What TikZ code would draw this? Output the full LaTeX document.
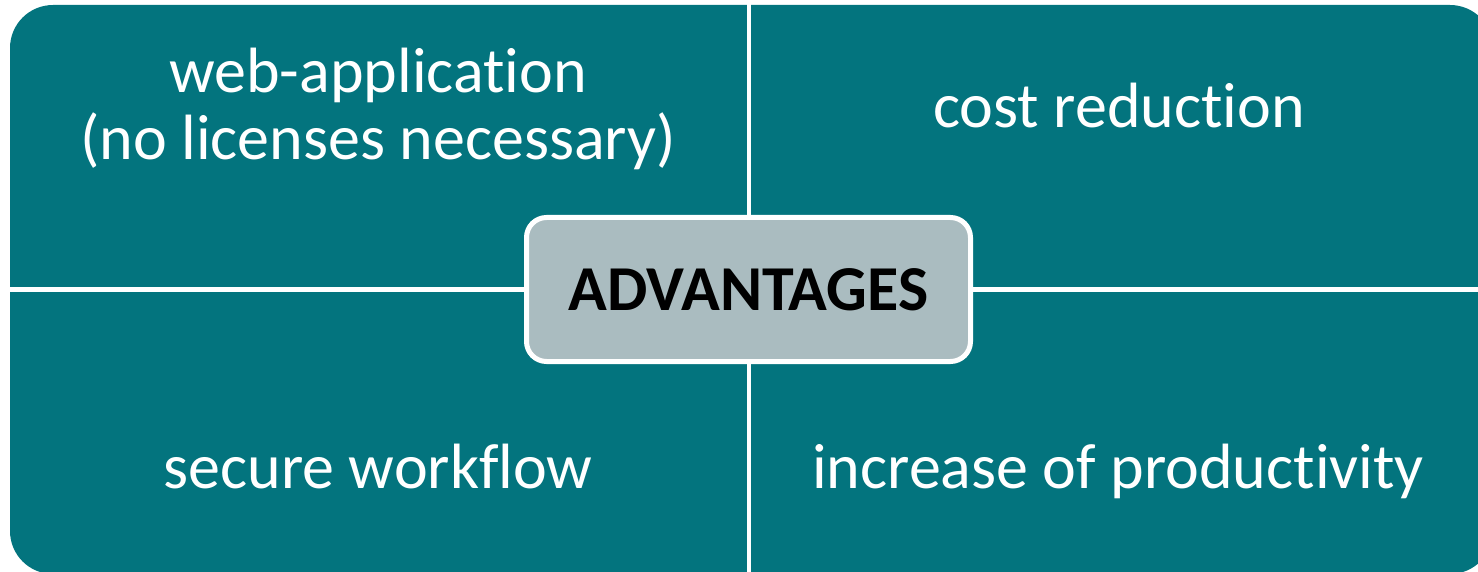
\documentclass[tikz,border=0pt]{standalone}
\usepackage{fontspec}
\setmainfont{Carlito}[Ligatures=NoCommon]
\definecolor{teal}{HTML}{03747E}
\definecolor{hubgrey}{HTML}{AABCC0}
\tikzset{
  panel/.style={fill=teal, draw=none},
  gap/.style={draw=white, line width=4.5pt},
  quadtext/.style={text=white, font=\fontsize{64}{67}\selectfont, align=center, inner sep=0pt, anchor=base},
  hub/.style={fill=hubgrey, draw=white, line width=5pt, rounded corners=20pt,
    minimum width=444pt, minimum height=144pt, inner sep=0pt,
    font=\bfseries\fontsize{64}{67}\selectfont, text=black}
}
\begin{document}
\begin{tikzpicture}[x=1pt,y=-1pt]
\useasboundingbox (0,0) rectangle (1478,572);
\begin{scope}
\clip (0,0) rectangle (1478,572);
\fill[panel, rounded corners=43pt] (10,5) rectangle (1493,574);
\coordinate (vt) at (749,0);
\coordinate (vb) at (749,580);
\coordinate (hl) at (0,289.5);
\coordinate (hr) at (1500,289.5);
\draw[gap] (vt) -- (vb);
\draw[gap] (hl) -- (hr);
\end{scope}
\node[quadtext] (web) at (378,160) {web-application\\(no licenses necessary)};
\node[quadtext] (cost) at (1119,128) {cost reduction};
\node[quadtext] (secure) at (378,488) {secure workflow};
\node[quadtext] (prod) at (1118,488) {increase of productivity};
\node[hub] (adv) at (748.5,289.5) {ADVANTAGES};
\end{tikzpicture}
\end{document}
